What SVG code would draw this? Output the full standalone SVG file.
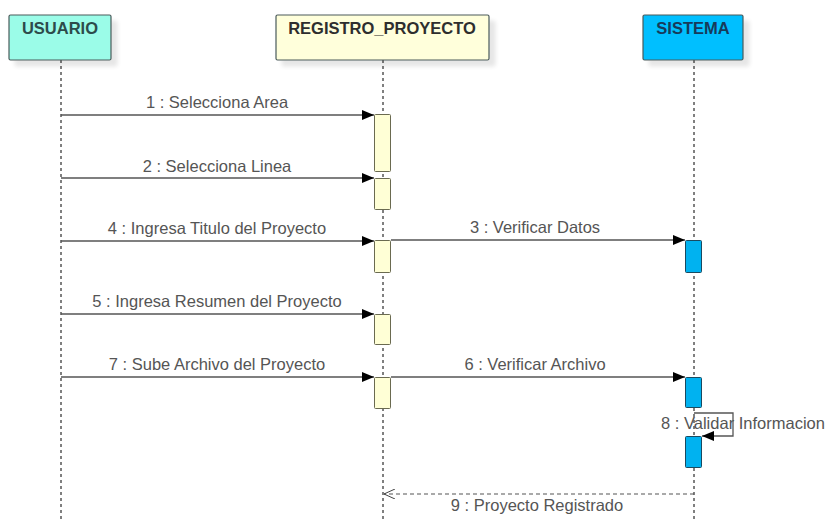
<svg xmlns="http://www.w3.org/2000/svg" width="827" height="519" viewBox="0 0 827 519">
  <defs>
    <marker id="filled" viewBox="0 0 12 10" refX="12" refY="5" markerWidth="12" markerHeight="10" markerUnits="userSpaceOnUse" orient="auto">
      <path d="M0,0 L12,5 L0,10 Z" fill="#000"/>
    </marker>
    <marker id="open" viewBox="0 0 12 10" refX="11" refY="5" markerWidth="12" markerHeight="10" markerUnits="userSpaceOnUse" orient="auto">
      <path d="M0,0 L11,5 L0,10" fill="none" stroke="#444" stroke-width="1"/>
    </marker>
    <filter id="shadow" x="-10%" y="-10%" width="130%" height="140%">
      <feOffset dx="6" dy="6" in="SourceAlpha" result="o"/>
      <feGaussianBlur in="o" stdDeviation="2" result="b"/>
      <feComponentTransfer in="b" result="s"><feFuncA type="linear" slope="0.1"/></feComponentTransfer>
      <feMerge><feMergeNode in="s"/><feMergeNode in="SourceGraphic"/></feMerge>
    </filter>
  </defs>
  <style>
    .head { stroke: #4a5a5a; stroke-width: 1.2; filter: url(#shadow); }
    .htxt { font-family: "Liberation Sans", Arial, sans-serif; font-size: 16.5px; font-weight: bold; text-anchor: middle; }
    .life { stroke: #000; stroke-width: 1; stroke-dasharray: 3 3; fill: none; }
    .actY { fill: #ffffd6; stroke: #6a6a50; stroke-width: 1; }
    .actB { fill: #00b2f0; stroke: #1a4a60; stroke-width: 1; }
    .msg { stroke: #555; stroke-width: 1.3; fill: none; marker-end: url(#filled); }
    .ret { stroke: #555; stroke-width: 1.2; fill: none; stroke-dasharray: 4 3; marker-end: url(#open); }
    .lbl { font-family: "Liberation Sans", Arial, sans-serif; font-size: 16.5px; fill: #555; text-anchor: middle; }
  </style>

  <!-- lifelines -->
  <g id="lifelines">
    <line class="life" x1="61" y1="60" x2="61" y2="519"/>
    <line class="life" x1="383" y1="60" x2="383" y2="519"/>
    <line class="life" x1="694" y1="60" x2="694" y2="519"/>
  </g>

  <g id="usuario">
    <rect class="head" x="9" y="15" width="102" height="45" rx="1.5" fill="#9bfce8"/>
    <text class="htxt" x="60" y="34" fill="#2d4b4b">USUARIO</text>
  </g>
  <g id="registro_proyecto">
    <rect class="head" x="276" y="15" width="213" height="45" rx="1.5" fill="#ffffdb"/>
    <text class="htxt" x="382" y="34" fill="#2e2e2e">REGISTRO_PROYECTO</text>
  </g>
  <g id="sistema">
    <rect class="head" x="643" y="15" width="100" height="45" rx="1.5" fill="#00bfff"/>
    <text class="htxt" x="693" y="34" fill="#173a5a">SISTEMA</text>
  </g>

  <!-- activation bars -->
  <g id="activations">
    <rect class="actY" x="374.5" y="114.5" width="16" height="57" rx="1"/>
    <rect class="actY" x="374.5" y="178.5" width="16" height="31" rx="1"/>
    <rect class="actY" x="374.5" y="240.5" width="16" height="32" rx="1"/>
    <rect class="actY" x="374.5" y="314.5" width="16" height="30" rx="1"/>
    <rect class="actY" x="374.5" y="377.5" width="16" height="31" rx="1"/>
    <rect class="actB" x="685.5" y="240.5" width="16" height="32" rx="1"/>
    <rect class="actB" x="685.5" y="377.5" width="16" height="30" rx="1"/>
    <rect class="actB" x="685.5" y="436.5" width="16" height="31" rx="1"/>
  </g>

  <g id="connectors">
    <line class="msg" x1="61" y1="115" x2="374" y2="115"/>
    <line class="msg" x1="61" y1="178" x2="374" y2="178"/>
    <line class="msg" x1="61" y1="241" x2="374" y2="241"/>
    <line class="msg" x1="391" y1="240" x2="685" y2="240"/>
    <line class="msg" x1="61" y1="314" x2="374" y2="314"/>
    <line class="msg" x1="61" y1="377" x2="374" y2="377"/>
    <line class="msg" x1="391" y1="377" x2="685" y2="377"/>
    <path class="msg" d="M694,413 H733 V436 H702"/>
    <line class="ret" x1="694" y1="494" x2="384" y2="494"/>
  </g>

  <g id="labels">
    <text class="lbl" x="217" y="108">1 : Selecciona Area</text>
    <text class="lbl" x="217" y="172">2 : Selecciona Linea</text>
    <text class="lbl" x="217" y="234">4 : Ingresa Titulo del Proyecto</text>
    <text class="lbl" x="535" y="233">3 : Verificar Datos</text>
    <text class="lbl" x="217" y="307">5 : Ingresa Resumen del Proyecto</text>
    <text class="lbl" x="217" y="370">7 : Sube Archivo del Proyecto</text>
    <text class="lbl" x="535" y="370">6 : Verificar Archivo</text>
    <text class="lbl" x="743" y="429">8 : Validar Informacion</text>
    <text class="lbl" x="537" y="511">9 : Proyecto Registrado</text>
  </g>
</svg>
